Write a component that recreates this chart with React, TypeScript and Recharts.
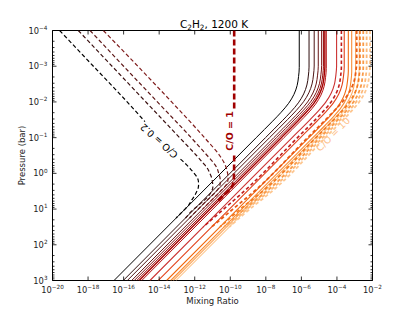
import React from 'react';
import { LineChart, Line, XAxis, YAxis, ReferenceArea, ReferenceDot } from 'recharts';

const W = 415;
const H = 312;
const PL = 52.5;
const PR = 372.5;
const PT = 30.5;
const PB = 280.5;
const XAXIS_H = 24;
const YAXIS_W = 40;
const FONT = 'DejaVu Sans, sans-serif';

// axis ticks
const xTicks = [1e-20, 1e-18, 1e-16, 1e-14, 1e-12, 1e-10, 1e-8, 1e-6, 1e-4, 1e-2];
const yMajor = [1e-4, 1e-3, 1e-2, 1e-1, 1, 1e1, 1e2, 1e3];
const yMinorFactors = [2, 3, 4, 5, 6, 7, 8, 9];

// Curves as [log10 pressure (bar), log10 mixing ratio]
// Solid curves (colour from black = low C/O to light orange = high C/O)
const solid1: number[][] = [[-4, -6.12], [-2.96, -6.12], [-2.71, -6.16], [-2.46, -6.24], [-2.21, -6.42], [-1.96, -6.72], [-1.71, -7.14], [-1.46, -7.62], [-1, -8.54], [1, -12.54], [3, -16.54]];
const solid2: number[][] = [[-4, -5.57], [-2.975, -5.57], [-2.725, -5.61], [-2.475, -5.69], [-2.225, -5.87], [-1.975, -6.17], [-1.725, -6.59], [-1.475, -7.07], [-1, -8.02], [1, -12.02], [3, -16.02]];
const solid3: number[][] = [[-4, -5.28], [-3.005, -5.28], [-2.755, -5.32], [-2.505, -5.40], [-2.255, -5.58], [-2.005, -5.88], [-1.755, -6.30], [-1.505, -6.78], [-1, -7.79], [1, -11.79], [3, -15.79]];
const solid4: number[][] = [[-4, -5.05], [-3.0, -5.05], [-2.75, -5.09], [-2.5, -5.17], [-2.25, -5.35], [-2.0, -5.65], [-1.75, -6.07], [-1.5, -6.55], [-1, -7.55], [1, -11.55], [3, -15.55]];
const solid5: number[][] = [[-4, -4.86], [-3.02, -4.86], [-2.77, -4.90], [-2.52, -4.98], [-2.27, -5.16], [-2.02, -5.46], [-1.77, -5.88], [-1.52, -6.36], [-1, -7.40], [1, -11.40], [3, -15.40]];
const solid6: number[][] = [[-4, -4.76], [-3.0, -4.76], [-2.75, -4.80], [-2.5, -4.88], [-2.25, -5.06], [-2.0, -5.36], [-1.75, -5.78], [-1.5, -6.26], [-1, -7.26], [1, -11.26], [3, -15.26]];
const solid7: number[][] = [[-4, -4.68], [-2.975, -4.68], [-2.725, -4.72], [-2.475, -4.80], [-2.225, -4.98], [-1.975, -5.28], [-1.725, -5.70], [-1.475, -6.18], [-1, -7.13], [1, -11.13], [3, -15.13]];
const solid8: number[][] = [[-4, -4.60], [-2.94, -4.60], [-2.69, -4.64], [-2.44, -4.72], [-2.19, -4.90], [-1.94, -5.20], [-1.69, -5.62], [-1.44, -6.10], [-1, -6.98], [1, -10.98], [3, -14.98]];
const solid9: number[][] = [[-4, -4.02], [-3.0, -4.02], [-2.75, -4.06], [-2.5, -4.14], [-2.25, -4.32], [-2.0, -4.62], [-1.75, -5.04], [-1.5, -5.52], [-1, -6.52], [1, -10.52], [3, -14.52]];
const solid10: number[][] = [[-4, -3.59], [-2.98, -3.59], [-2.73, -3.63], [-2.48, -3.71], [-2.23, -3.89], [-1.98, -4.19], [-1.73, -4.61], [-1.48, -5.09], [-1, -6.05], [1, -10.05], [3, -14.05]];
const solid11: number[][] = [[-4, -3.36], [-2.86, -3.36], [-2.61, -3.40], [-2.36, -3.48], [-2.11, -3.66], [-1.86, -3.96], [-1.61, -4.38], [-1.36, -4.86], [-1, -5.58], [1, -9.58], [3, -13.58]];
const solid12: number[][] = [[-4, -3.17], [-2.84, -3.17], [-2.59, -3.21], [-2.34, -3.29], [-2.09, -3.47], [-1.84, -3.77], [-1.59, -4.19], [-1.34, -4.67], [-1, -5.35], [1, -9.35], [3, -13.35]];
const solid13: number[][] = [[-4, -2.95], [-2.88, -2.95], [-2.63, -2.99], [-2.38, -3.07], [-2.13, -3.25], [-1.88, -3.55], [-1.63, -3.97], [-1.38, -4.45], [-1, -5.21], [1, -9.21], [3, -13.21]];
const solid14: number[][] = [[-4, -2.75], [-2.9, -2.75], [-2.65, -2.79], [-2.4, -2.87], [-2.15, -3.05], [-1.9, -3.35], [-1.65, -3.77], [-1.4, -4.25], [-1, -5.05], [1, -9.05], [3, -13.05]];

// Dashed curves, high C/O (right family)
const dashR1: number[][] = [[-4, -3.75], [-2.985, -3.75], [-2.735, -3.79], [-2.485, -3.87], [-2.235, -4.05], [-1.985, -4.35], [-1.735, -4.77], [-1.485, -5.25], [-1, -6.22], [0.5, -9.22], [1.0, -10.37], [1.5, -11.52]];
const dashR2: number[][] = [[-4, -2.89], [-3.13, -2.89], [-2.88, -2.93], [-2.63, -3.01], [-2.38, -3.19], [-2.13, -3.49], [-1.88, -3.91], [-1.63, -4.39], [-1, -5.65], [0.5, -8.65], [1.0, -9.85], [1.5, -11.05]];
const dashR3: number[][] = [[-4, -2.71], [-2.985, -2.71], [-2.735, -2.75], [-2.485, -2.83], [-2.235, -3.01], [-1.985, -3.31], [-1.735, -3.73], [-1.485, -4.21], [-1, -5.18], [0.5, -8.18], [1.0, -9.43], [1.5, -10.58]];
const dashR4: number[][] = [[-4, -2.52], [-2.965, -2.52], [-2.715, -2.56], [-2.465, -2.64], [-2.215, -2.82], [-1.965, -3.12], [-1.715, -3.54], [-1.465, -4.02], [-1, -4.95], [0.5, -7.95], [1.0, -9.2], [1.5, -10.35]];
const dashR5: number[][] = [[-4, -2.33], [-2.99, -2.33], [-2.74, -2.37], [-2.49, -2.45], [-2.24, -2.63], [-1.99, -2.93], [-1.74, -3.35], [-1.49, -3.83], [-1, -4.81], [0.5, -7.81], [1.0, -9.06], [1.5, -10.21]];
const dashR6: number[][] = [[-4, -2.14], [-3.005, -2.14], [-2.755, -2.18], [-2.505, -2.26], [-2.255, -2.44], [-2.005, -2.74], [-1.755, -3.16], [-1.505, -3.64], [-1, -4.65], [0.5, -7.65], [1.0, -8.9], [1.5, -10.05]];

// Dashed curves, low C/O (left family)
const dashL1a: number[][] = [[-4, -19.6], [-3, -17.7], [-2, -15.8], [-1.45, -14.8]];
const dashL1b: number[][] = [[-0.4, -12.8], [-0.25, -12.48], [-0.1, -12.2], [0, -12.03], [0.1, -11.88], [0.2, -11.8], [0.3, -11.78], [0.4, -11.8], [0.5, -11.88], [0.62, -12.0], [0.75, -12.17], [0.88, -12.33], [1, -12.55], [1.25, -13.05]];
const dashL2: number[][] = [[-4, -18.55], [-3, -16.65], [-2, -14.75], [-1, -12.85], [-0.5, -11.9], [-0.3, -11.55], [-0.15, -11.3], [0, -11.15], [0.12, -11.05], [0.25, -11.0], [0.38, -10.98], [0.5, -11.05], [0.62, -11.2], [0.75, -11.45], [0.88, -11.75], [1, -12.05], [1.25, -12.52]];
const dashL3: number[][] = [[-4, -17.89], [-3, -16.0], [-2, -14.1], [-1, -12.2], [-0.5, -11.3], [-0.3, -10.95], [-0.15, -10.75], [0, -10.65], [0.12, -10.58], [0.25, -10.56], [0.38, -10.62], [0.5, -10.78], [0.62, -11.02], [0.8, -11.4], [1, -11.8], [1.25, -12.29]];
const dashL4: number[][] = [[-4, -17.14], [-3, -15.2], [-2, -13.3], [-1, -11.45], [-0.5, -10.6], [-0.3, -10.35], [-0.15, -10.22], [0, -10.15], [0.12, -10.12], [0.25, -10.16], [0.38, -10.32], [0.5, -10.55], [0.62, -10.78], [0.8, -11.15], [1, -11.55]];

// C/O = 1 thick dashed curve
const dashCO1a: number[][] = [[-4, -9.78], [-3, -9.78], [-1.77, -9.78]];
const dashCO1b: number[][] = [[-0.5, -9.78], [0, -9.79], [0.15, -9.8], [0.25, -9.82], [0.35, -9.88], [0.45, -10.02], [0.6, -10.33], [0.8, -10.73]];

// inline label anchors: [log10 mixing ratio, log10 pressure]
const labelCO02 = [-14.01, -0.906];
const labelCO1 = [-10.07, -1.19];
const labelCO10 = [-4.23, -1.1];

const toPts = (arr: number[][]) => arr.map(([lp, lx]) => ({ x: Math.pow(10, lx), p: Math.pow(10, lp) }));

type Series = { id: string; data: number[][]; color: string; width: number; dash?: string };

const series: Series[] = [
  { id: 's1', data: solid1, color: '#000000', width: 1 },
  { id: 's2', data: solid2, color: '#2e0d0d', width: 1 },
  { id: 's3', data: solid3, color: '#4d1414', width: 1 },
  { id: 's4', data: solid4, color: '#681515', width: 1 },
  { id: 's5', data: solid5, color: '#7f1010', width: 1 },
  { id: 's6', data: solid6, color: '#930a0a', width: 1 },
  { id: 's7', data: solid7, color: '#a50000', width: 1.4 },
  { id: 's8', data: solid8, color: '#b41010', width: 1 },
  { id: 's9', data: solid9, color: '#cc3333', width: 1.1 },
  { id: 's10', data: solid10, color: '#e2441c', width: 1.1 },
  { id: 's11', data: solid11, color: '#f26a10', width: 1.1 },
  { id: 's12', data: solid12, color: '#f88c34', width: 1.1 },
  { id: 's13', data: solid13, color: '#fbab62', width: 1.1 },
  { id: 's14', data: solid14, color: '#fdc993', width: 1.1 },
  { id: 'dR1', data: dashR1, color: '#c01c1c', width: 1.6, dash: '3.5 2.5' },
  { id: 'dR2', data: dashR2, color: '#e85a16', width: 1.8, dash: '3.5 2.5' },
  { id: 'dR3', data: dashR3, color: '#f47c20', width: 1.8, dash: '3.5 2.5' },
  { id: 'dR4', data: dashR4, color: '#f99a48', width: 1.8, dash: '3.5 2.5' },
  { id: 'dR5', data: dashR5, color: '#fcb878', width: 1.8, dash: '3.5 2.5' },
  { id: 'dR6', data: dashR6, color: '#fdc690', width: 1.8, dash: '3.5 2.5' },
  { id: 'dL1a', data: dashL1a, color: '#000000', width: 1.2, dash: '4 2.5' },
  { id: 'dL1b', data: dashL1b, color: '#000000', width: 1.2, dash: '4 2.5' },
  { id: 'dL2', data: dashL2, color: '#3a1010', width: 1.2, dash: '4 2.5' },
  { id: 'dL3', data: dashL3, color: '#5e1818', width: 1.2, dash: '4 2.5' },
  { id: 'dL4', data: dashL4, color: '#7f1c1c', width: 1.2, dash: '4 2.5' },
  { id: 'dCO1a', data: dashCO1a, color: '#a00000', width: 2.6, dash: '6 3' },
  { id: 'dCO1b', data: dashCO1b, color: '#a00000', width: 2.6, dash: '6 3' },
];

const yTicks = [
  ...yMajor,
  ...yMajor.slice(0, -1).flatMap((m) => yMinorFactors.map((f) => f * m)),
].sort((a, b) => a - b);

const MINUS = '\u2212';
const expLabel = (v: number) => {
  const e = Math.round(Math.log10(v));
  return e < 0 ? MINUS + String(-e) : String(e);
};

const XTick = (props: any) => {
  const { x, payload } = props;
  return (
    <g>
      <line x1={x} x2={x} y1={PB} y2={PB - 4} stroke="#000" strokeWidth={0.8} />
      <line x1={x} x2={x} y1={PT} y2={PT + 4} stroke="#000" strokeWidth={0.8} />
      <text x={x} y={PB + 12} textAnchor="middle" fontSize={8.3} fill="#222" fontFamily={FONT}>
        10<tspan dy={-3.6} fontSize={5.7}>{expLabel(payload.value)}</tspan>
      </text>
    </g>
  );
};

const YTick = (props: any) => {
  const { y, payload } = props;
  const v = payload.value;
  const lg = Math.log10(v);
  const major = Math.abs(lg - Math.round(lg)) < 1e-6;
  const len = major ? 4 : 2;
  return (
    <g>
      <line x1={PL} x2={PL + len} y1={y} y2={y} stroke="#000" strokeWidth={0.8} />
      <line x1={PR} x2={PR - len} y1={y} y2={y} stroke="#000" strokeWidth={0.8} />
      {major && (
        <text x={PL - 5} y={y + 3} textAnchor="end" fontSize={8.3} fill="#222" fontFamily={FONT}>
          10<tspan dy={-3.6} fontSize={5.7}>{expLabel(v)}</tspan>
        </text>
      )}
    </g>
  );
};

const makeLabel = (text: string, color: string, angle: number, bold: boolean) => (p: any) => (
  <text
    x={p.cx}
    y={p.cy}
    transform={`rotate(${angle} ${p.cx} ${p.cy})`}
    textAnchor="middle"
    dominantBaseline="central"
    fontSize={9.5}
    fontWeight={bold ? 'bold' : 'normal'}
    fill={color}
    fontFamily={FONT}
  >
    {text}
  </text>
);

export default function App() {
  return (
    <div style={{ position: 'absolute', left: 0, top: 0, width: W, height: H, background: '#fff' }}>
      <LineChart
        width={W}
        height={H}
        margin={{ top: PT, right: W - PR, bottom: H - PB - XAXIS_H, left: PL - YAXIS_W }}
      >
        <XAxis
          type="number"
          dataKey="x"
          scale="log"
          domain={[1e-20, 1e-2]}
          allowDataOverflow
          ticks={xTicks}
          interval={0}
          tick={XTick}
          tickLine={false}
          axisLine={false}
          height={XAXIS_H}
        />
        <YAxis
          type="number"
          scale="log"
          domain={[1e-4, 1e3]}
          allowDataOverflow
          reversed
          ticks={yTicks}
          interval={0}
          tick={YTick}
          tickLine={false}
          axisLine={false}
          width={YAXIS_W}
        />
        {series.map((s) => (
          <Line
            key={s.id}
            data={toPts(s.data)}
            dataKey="p"
            type="monotoneY"
            stroke={s.color}
            strokeWidth={s.width}
            strokeDasharray={s.dash}
            dot={false}
            activeDot={false}
            isAnimationActive={false}
          />
        ))}
        <ReferenceArea x1={1e-20} x2={1e-2} y1={1e-4} y2={1e3} fill="none" fillOpacity={0} stroke="#000" strokeWidth={1} />
        <ReferenceDot x={Math.pow(10, labelCO02[0])} y={Math.pow(10, labelCO02[1])} r={0} shape={makeLabel('C/O = 0.2', '#000', 222, false)} />
        <ReferenceDot x={Math.pow(10, labelCO1[0])} y={Math.pow(10, labelCO1[1])} r={0} shape={makeLabel('C/O = 1', '#a00000', -90, true)} />
        <ReferenceDot x={Math.pow(10, labelCO10[0])} y={Math.pow(10, labelCO10[1])} r={0} shape={makeLabel('C/O = 10', '#fdc08a', -45, false)} />
      </LineChart>
      <svg width={W} height={H} style={{ position: 'absolute', left: 0, top: 0, pointerEvents: 'none' }}>
        <text x={214} y={27.5} textAnchor="middle" fontSize={10.5} fill="#000" fontFamily={FONT}>
          C<tspan dy={2.5} fontSize={7.3}>2</tspan>
          <tspan dy={-2.5}>H</tspan>
          <tspan dy={2.5} fontSize={7.3}>2</tspan>
          <tspan dy={-2.5}>, 1200 K</tspan>
        </text>
        <text x={212.5} y={304} textAnchor="middle" fontSize={8.5} fill="#222" fontFamily={FONT}>
          Mixing Ratio
        </text>
        <text x={25} y={155.5} transform="rotate(-90 25 155.5)" textAnchor="middle" fontSize={8.5} fill="#222" fontFamily={FONT}>
          Pressure (bar)
        </text>
      </svg>
    </div>
  );
}
